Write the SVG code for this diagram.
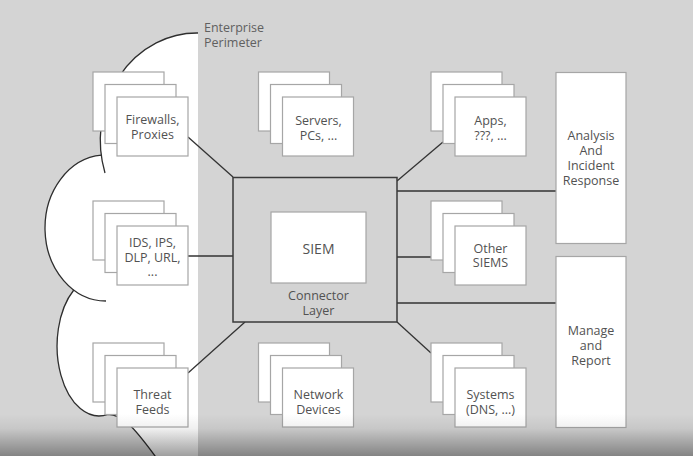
<svg xmlns="http://www.w3.org/2000/svg" xmlns:xlink="http://www.w3.org/1999/xlink" width="693" height="456" viewBox="0 0 693 456">
<style>
.card{fill:#ffffff;stroke:#a6a6a6;stroke-width:1.2}
.lbl{font-family:"Open Sans","Noto Sans","Liberation Sans",sans-serif;font-size:12.5px;fill:#525252;text-anchor:middle}
.cloud{fill:none;stroke:#2e2e2e;stroke-width:1.3}
.conn{fill:none;stroke:#333333;stroke-width:1.3}
</style>
<defs>
<g id="stack">
<rect class="card" x="0" y="0" width="71" height="59"/>
<rect class="card" x="12" y="12.5" width="71" height="59"/>
<rect class="card" x="24" y="25" width="71" height="59"/>
</g>
<linearGradient id="shade" x1="0" y1="0" x2="0" y2="1">
<stop offset="0" stop-color="#000" stop-opacity="0"/>
<stop offset="0.35" stop-color="#000" stop-opacity="0.06"/>
<stop offset="1" stop-color="#000" stop-opacity="0.38"/>
</linearGradient>
</defs>
<rect x="0" y="0" width="693" height="456" fill="#d4d4d4"/>
<g id="perimeter">
<path d="M198,33 A96.5,107 0 0 0 101.5,155.2 A61,73 0 0 0 73.8,290 A42,70 0 0 0 108,414.3 C122,415 131,423 158,460 L198,460 Z" fill="#ffffff"/>
<path class="cloud" d="M198,33 A96.5,107 0 0 0 105,173"/>
<path class="cloud" d="M101.5,155.2 A61,73 0 0 0 106,301"/>
<path class="cloud" d="M73.8,290 A42,70 0 0 0 108,414.3 C122,415 131,423 158,460"/>
<text class="lbl" x="204" y="31.5" style="text-anchor:start;fill:#606060">Enterprise</text>
<text class="lbl" x="204" y="46.5" style="text-anchor:start;fill:#606060">Perimeter</text>
</g>
<g id="connectors">
<path class="conn" d="M188,137 L233,177"/>
<path class="conn" d="M397,181 L443,142"/>
<path class="conn" d="M397,191 L556,191"/>
<path class="conn" d="M188,256 L233,256"/>
<path class="conn" d="M397,257 L431,257"/>
<path class="conn" d="M397,303 L556,303"/>
<path class="conn" d="M188,373 L245,322"/>
<path class="conn" d="M397,322 L431,353"/>
</g>
<g id="siem">
<rect x="233" y="177.5" width="164" height="144.5" fill="#d3d3d3" stroke="#3a3a3a" stroke-width="1.5"/>
<rect x="271" y="212" width="95" height="71" fill="#ffffff" stroke="#a6a6a6" stroke-width="1.2"/>
<text class="lbl" x="318.5" y="254" style="font-size:14px">SIEM</text>
<text class="lbl" x="318.5" y="299.5">Connector</text>
<text class="lbl" x="318.5" y="315">Layer</text>
</g>
<g id="firewalls">
<use xlink:href="#stack" x="93" y="72"/>
<text class="lbl" x="152.5" y="124">Firewalls,</text>
<text class="lbl" x="152.5" y="139">Proxies</text>
</g>
<g id="servers">
<use xlink:href="#stack" x="258.5" y="72"/>
<text class="lbl" x="318.5" y="125">Servers,</text>
<text class="lbl" x="318.5" y="140">PCs, ...</text>
</g>
<g id="apps">
<use xlink:href="#stack" x="431" y="72"/>
<text class="lbl" x="490.5" y="125">Apps,</text>
<text class="lbl" x="490.5" y="140">???, ...</text>
</g>
<g id="ids">
<use xlink:href="#stack" x="93" y="201"/>
<text class="lbl" x="152.5" y="247">IDS, IPS,</text>
<text class="lbl" x="152.5" y="261.5">DLP, URL,</text>
<text class="lbl" x="152.5" y="276">...</text>
</g>
<g id="other-siems">
<use xlink:href="#stack" x="431" y="201"/>
<text class="lbl" x="490.5" y="252.5">Other</text>
<text class="lbl" x="490.5" y="267">SIEMS</text>
</g>
<g id="threat">
<use xlink:href="#stack" x="93" y="343"/>
<text class="lbl" x="152.5" y="399">Threat</text>
<text class="lbl" x="152.5" y="413.5">Feeds</text>
</g>
<g id="network">
<use xlink:href="#stack" x="258.5" y="343"/>
<text class="lbl" x="318.5" y="398.5">Network</text>
<text class="lbl" x="318.5" y="413.5">Devices</text>
</g>
<g id="systems">
<use xlink:href="#stack" x="431" y="343"/>
<text class="lbl" x="490.5" y="399">Systems</text>
<text class="lbl" x="490.5" y="414">(DNS, ...)</text>
</g>
<g id="analysis">
<rect class="card" x="556" y="72.5" width="70" height="171"/>
<text class="lbl" x="591" y="140">Analysis</text>
<text class="lbl" x="591" y="155">And</text>
<text class="lbl" x="591" y="170">Incident</text>
<text class="lbl" x="591" y="184.5">Response</text>
</g>
<g id="manage">
<rect class="card" x="556" y="256.5" width="70" height="171"/>
<text class="lbl" x="591" y="335">Manage</text>
<text class="lbl" x="591" y="350">and</text>
<text class="lbl" x="591" y="364.5">Report</text>
</g>
<rect x="0" y="414" width="693" height="42" fill="url(#shade)"/>
</svg>
